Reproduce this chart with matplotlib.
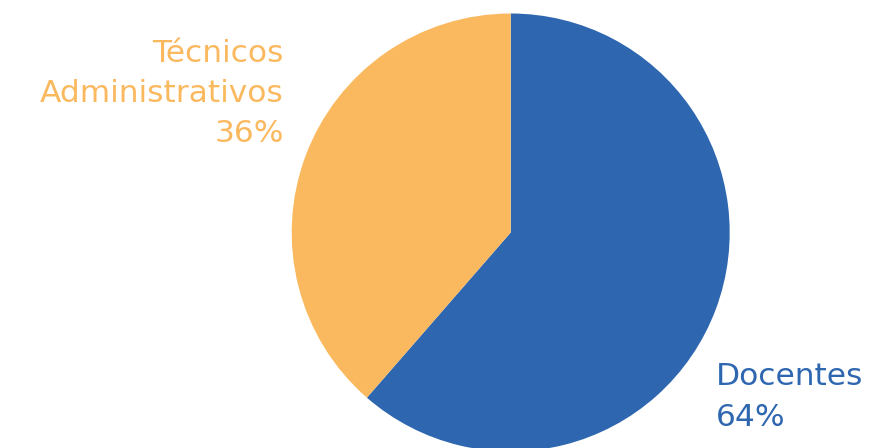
import matplotlib.pyplot as plt

# slice sizes as drawn in the picture, and the label texts it prints
groups = ["Docentes", "Técnicos\nAdministrativos"]
shares = [61.4, 38.6]
pct_labels = ["64%", "36%"]
colors = ["#2E67B0", "#FBB95F"]

W, H = 879, 448
fig = plt.figure(figsize=(W / 100, H / 100), dpi=100)
ax = fig.add_axes([0, 0, 1, 1])

ax.pie(shares, colors=colors, startangle=90, counterclock=False,
       center=(510.7, H - 232.5), radius=219, frame=True,
       wedgeprops=dict(linewidth=0))
ax.set_xlim(0, W)
ax.set_ylim(0, H)
ax.set_aspect("equal")
ax.axis("off")

font = dict(family="DejaVu Sans", fontsize=22.5)

# Docentes label, left aligned at lower right
doc_lines = [groups[0], pct_labels[0]]
for i, line in enumerate(doc_lines):
    ax.text(716, H - 385 - 41 * i, line, ha="left", va="baseline",
            color=colors[0], **font)

# Técnicos Administrativos label, right aligned at upper left
tec_lines = groups[1].split("\n") + [pct_labels[1]]
for i, line in enumerate(tec_lines):
    ax.text(284, H - 61.5 - 40 * i, line, ha="right", va="baseline",
            color=colors[1], **font)

fig.savefig("out.png", dpi=100)
